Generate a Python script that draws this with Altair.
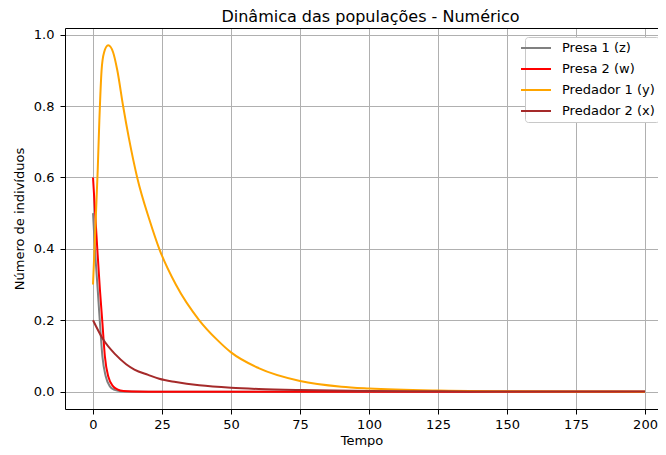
import altair as alt
import pandas as pd

series_names = ["Presa 1 (z)", "Presa 2 (w)", "Predador 1 (y)", "Predador 2 (x)"]
series_colors = ["gray", "red", "orange", "brown"]

# Presa 1 (z)
t_presa1 = [0, 0.7, 1.7, 2.5, 3.4, 4.6, 6.1, 7.8, 10, 13, 20, 50, 100, 150, 200]
v_presa1 = [0.50, 0.40, 0.286, 0.193, 0.099, 0.043, 0.015, 0.005, 0.0015, 0.0003, 0.0, 0.0, 0.0, 0.0, 0.0]

# Presa 2 (w)
t_presa2 = [0, 1.55, 2.5, 3.4, 4.3, 5.5, 7.3, 9, 11, 14, 20, 50, 100, 150, 200]
v_presa2 = [0.60, 0.40, 0.286, 0.193, 0.099, 0.043, 0.015, 0.006, 0.002, 0.0005, 0.0001, 0.0, 0.0, 0.0, 0.0]

# Predador 1 (y)
t_pred1 = [0, 0.8, 1.7, 2.3, 3.1, 4.0, 5.5, 7.3, 8.8, 10.9, 13, 16, 20.5, 24, 30, 38.5, 45, 50,
           60, 75, 90, 100, 125, 150, 175, 200]
v_pred1 = [0.30, 0.45, 0.62, 0.76, 0.90, 0.95, 0.97, 0.95, 0.90, 0.80, 0.71, 0.60, 0.48, 0.40, 0.30,
           0.20, 0.145, 0.11, 0.066, 0.03, 0.014, 0.009, 0.003, 0.001, 0.0003, 0.0001]

# Predador 2 (x)
t_pred2 = [0, 3.7, 8, 12, 15, 20, 24, 30, 38.5, 50, 60, 75, 100, 125, 150, 200]
v_pred2 = [0.20, 0.146, 0.105, 0.077, 0.062, 0.047, 0.036, 0.027, 0.018, 0.011, 0.0075, 0.0045,
           0.002, 0.001, 0.0005, 0.0002]

x_ticks = [0, 25, 50, 75, 100, 125, 150, 175, 200]
y_ticks = [0.0, 0.2, 0.4, 0.6, 0.8, 1.0]

rows = []
for order, (name, ts, vs) in enumerate(zip(series_names,
                                           [t_presa1, t_presa2, t_pred1, t_pred2],
                                           [v_presa1, v_presa2, v_pred1, v_pred2])):
    for t, v in zip(ts, vs):
        rows.append({"Tempo": t, "valor": v, "serie": name, "ordem": order})
df = pd.DataFrame(rows)

FONT = "DejaVu Sans"
x_scale = alt.Scale(domain=[-10.15, 204.7], nice=False, zero=False)
y_scale = alt.Scale(domain=[-0.0485, 1.0185], nice=False, zero=False)

y_axis = alt.Axis(values=y_ticks, format=".1f", title="Número de indivíduos",
                  domain=True, domainColor="black", domainWidth=1)

base = alt.Chart(df)

lines = base.mark_line(strokeWidth=2, interpolate="monotone", clip=True).encode(
    x=alt.X("Tempo:Q", scale=x_scale,
            axis=alt.Axis(values=x_ticks, format="d", title="Tempo", domain=True,
                          domainColor="black", domainWidth=1)),
    y=alt.Y("valor:Q", scale=y_scale, axis=y_axis),
    color=alt.Color("serie:N",
                    scale=alt.Scale(domain=series_names, range=series_colors),
                    sort=series_names,
                    legend=alt.Legend(title=None, orient="none", legendX=460, legendY=9,
                                      symbolType="M-2.5,0L2.5,0", symbolSize=144,
                                      symbolStrokeWidth=2,
                                      labelFont=FONT, labelFontSize=13, labelColor="#000",
                                      fillColor="white", strokeColor="#c8c8c8", cornerRadius=3,
                                      padding=4, rowPadding=7, labelOffset=19)),
)

top_spine = base.mark_line(opacity=0).encode(
    x=alt.X("Tempo:Q", scale=x_scale,
            axis=alt.Axis(orient="top", labels=False, ticks=False, grid=False, title=None,
                          domain=True, domainColor="black", domainWidth=1)),
    y=alt.Y("valor:Q", scale=y_scale, axis=y_axis),
)

chart = alt.layer(lines, top_spine).resolve_axis(x="independent").properties(
    width=593,
    height=381,
    padding={"left": 57, "top": 20, "right": 0, "bottom": 38},
    autosize=alt.AutoSizeParams(type="none"),
    title=alt.Title("Dinâmica das populações - Numérico", fontSize=16, font=FONT,
                    fontWeight="normal", color="#000", offset=3, dx=9),
).configure_view(
    stroke=None
).configure_axis(
    grid=True, gridColor="#b0b0b0", gridWidth=1,
    tickColor="black", tickSize=5,
    labelFont=FONT, labelFontSize=13, labelColor="#000",
    titleFont=FONT, titleFontSize=13, titleFontWeight="normal", titleColor="#000",
).configure_axisY(
    labelPadding=6, titlePadding=7
).configure_axisX(
    labelPadding=4, titlePadding=3
)

chart.save("out.html", embed_options={"renderer": "svg", "actions": False})
